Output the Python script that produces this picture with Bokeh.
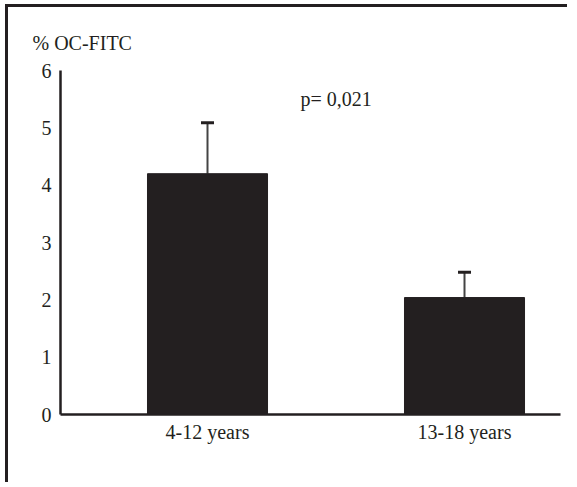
from bokeh.plotting import figure
from bokeh.models import Range1d, FixedTicker, ColumnDataSource, Whisker, TeeHead, Label
from bokeh.embed import file_html
from bokeh.resources import INLINE

# data
categories = ["4-12 years", "13-18 years"]
means = [4.20, 2.04]
upper = [5.09, 2.48]
y_ticks = [0, 1, 2, 3, 4, 5, 6]
y_label = "% OC-FITC"
p_text = "p= 0,021"

INK = "#231f20"
FONT = "Liberation Serif"
FS = "20px"

xs = list(range(1, len(categories) + 1))
src = ColumnDataSource(dict(x=xs, top=means, upper=upper, cat=categories))

p = figure(width=566, height=478, output_backend="svg", toolbar_location=None,
           x_range=Range1d(0.428, 2.3735), y_range=Range1d(0, 6),
           min_border_left=52, min_border_right=14, min_border_bottom=71)
# the figure's outer frame (top and left edges only)
p.styles = {"border-top": "3px solid #231f20", "border-left": "3px solid #231f20",
            "border-right": "0px none transparent", "border-bottom": "0px none transparent",
            "outline": "none", "box-shadow": "none",
            "clip-path": "inset(0px 4px 0px 0px)",
            "margin-left": "5px", "margin-top": "4px"}
p.title.text = y_label
p.title.align = "left"
p.title.offset = -28
p.title.text_font = FONT
p.title.text_font_size = FS
p.title.text_font_style = "normal"
p.title.text_color = INK
p.title.standoff = 33
p.min_border_top = 63
p.outline_line_color = None
p.xgrid.visible = False
p.ygrid.visible = False

p.vbar(x="x", top="top", bottom=0, width=0.467, source=src,
       fill_color=INK, line_color=INK)

w = Whisker(source=src, base="x", upper="upper", lower="top",
            line_color="#444444", line_width=2,
            upper_head=TeeHead(size=13, line_color=INK, line_width=3),
            lower_head=None)
p.add_layout(w)

for ax in (p.xaxis[0], p.yaxis[0]):
    ax.axis_line_color = INK
    ax.axis_line_width = 2.5
    ax.major_tick_line_color = None
    ax.minor_tick_line_color = None
    ax.major_tick_out = 0
    ax.major_tick_in = 0
    ax.major_label_text_font = FONT
    ax.major_label_text_font_size = FS
    ax.major_label_text_color = INK

p.xaxis[0].ticker = FixedTicker(ticks=xs)
p.xaxis[0].major_label_overrides = {x: c for x, c in zip(xs, categories)}
p.xaxis[0].major_label_standoff = 6
p.yaxis[0].ticker = FixedTicker(ticks=y_ticks)
p.yaxis[0].major_label_standoff = 9

p.add_layout(Label(x=1.362, y=5.51, text=p_text, text_font=FONT, text_font_size=FS,
                   text_color=INK, text_baseline="alphabetic"))

open("out.html", "w").write(file_html(p, INLINE))
